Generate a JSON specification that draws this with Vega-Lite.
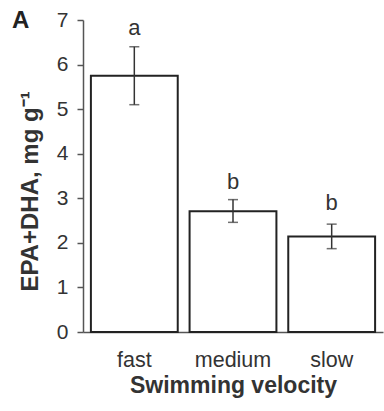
{
  "$schema": "https://vega.github.io/schema/vega-lite/v6.json",
  "autosize": {"type": "none"},
  "padding": {"left": 83, "top": 20, "right": 1, "bottom": 79},
  "width": 300,
  "height": 312,
  "background": "white",
  "title": {"text": "A", "anchor": "start", "frame": "group", "dx": -71, "dy": 47, "baseline": "alphabetic", "fontSize": 24, "fontWeight": "bold", "font": "Liberation Sans", "color": "#222"},
  "config": {"view": {"stroke": null}, "font": "Liberation Sans"},
  "data": {"values": [
    {"velocity": "fast", "mean": 5.75, "lo": 5.10, "hi": 6.40, "letter": "a", "lpos": 6.82},
    {"velocity": "medium", "mean": 2.71, "lo": 2.46, "hi": 2.97, "letter": "b", "lpos": 3.37},
    {"velocity": "slow", "mean": 2.14, "lo": 1.87, "hi": 2.42, "letter": "b", "lpos": 2.90}
  ]},
  "encoding": {
    "x": {"field": "velocity", "type": "nominal", "sort": ["fast", "medium", "slow"],
      "scale": {"paddingInner": 0.12, "paddingOuter": 0.08},
      "axis": {"title": "Swimming velocity", "labelAngle": 0, "ticks": false, "labelPadding": 17, "labelFontSize": 21.5, "labelColor": "#333", "titleFontSize": 23, "titleFontWeight": "bold", "titleColor": "#333", "titlePadding": 4, "domainColor": "#555", "domainWidth": 1.5}}
  },
  "layer": [
    {"mark": {"type": "bar", "fill": "white", "stroke": "#222", "strokeWidth": 2},
     "encoding": {"y": {"field": "mean", "type": "quantitative",
       "scale": {"domain": [0, 7], "nice": false},
       "axis": {"title": "EPA+DHA, mg g⁻¹", "values": [0, 0.5, 1, 1.5, 2, 2.5, 3, 3.5, 4, 4.5, 5, 5.5, 6, 6.5, 7],
         "labelExpr": "datum.value % 1 === 0 ? datum.label : ''",
         "tickSize": {"condition": {"test": "datum.value % 1 === 0", "value": 6}, "value": 4},
         "tickColor": "#555", "tickWidth": 1.5, "domainColor": "#555", "domainWidth": 1.5,
         "grid": false, "labelFontSize": 21, "labelColor": "#333", "labelPadding": 9,
         "titleFontSize": 24, "titleFontWeight": "bold", "titleColor": "#333", "titlePadding": 14, "titleY": 171}}}},
    {"mark": {"type": "rule", "color": "#333", "strokeWidth": 1.5},
     "encoding": {"y": {"field": "lo", "type": "quantitative"}, "y2": {"field": "hi"}}},
    {"mark": {"type": "tick", "color": "#333", "thickness": 1.5, "size": 10},
     "encoding": {"y": {"field": "lo", "type": "quantitative"}}},
    {"mark": {"type": "tick", "color": "#333", "thickness": 1.5, "size": 10},
     "encoding": {"y": {"field": "hi", "type": "quantitative"}}},
    {"mark": {"type": "text", "fontSize": 22, "color": "#333", "baseline": "middle"},
     "encoding": {"y": {"field": "lpos", "type": "quantitative"}, "text": {"field": "letter"}}}
  ]
}
